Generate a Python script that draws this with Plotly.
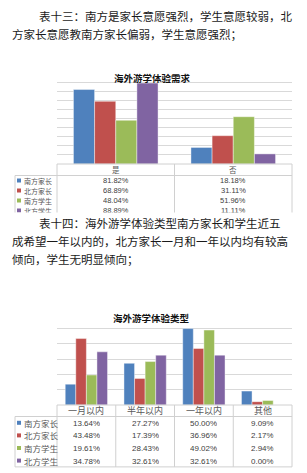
import plotly.graph_objects as go

W, H = 307, 473

# ---------------- data ----------------
series_names = ["南方家长", "北方家长", "南方学生", "北方学生"]
series_colors = ["#4F81BD", "#C0504D", "#9BBB59", "#8064A2"]

chart1_title = "海外游学体验需求"
chart1_categories = ["是", "否"]
chart1_south_parent = [81.82, 18.18]
chart1_north_parent = [68.89, 31.11]
chart1_south_student = [48.04, 51.96]
chart1_north_student = [88.89, 11.11]

chart2_title = "海外游学体验类型"
chart2_categories = ["一月以内", "半年以内", "一年以内", "其他"]
chart2_south_parent = [13.64, 27.27, 50.00, 9.09]
chart2_north_parent = [43.48, 17.39, 36.96, 2.17]
chart2_south_student = [19.61, 28.43, 49.02, 2.94]
chart2_north_student = [34.78, 32.61, 32.61, 0.00]

paragraph1 = ["表十三：南方是家长意愿强烈，学生意愿较弱，北",
              "方家长意愿教南方家长偏弱，学生意愿强烈；"]
paragraph2 = ["表十四：海外游学体验类型南方家长和学生近五",
              "成希望一年以内的，北方家长一月和一年以内均有较高",
              "倾向，学生无明显倾向；"]

chart1_series = [chart1_south_parent, chart1_north_parent, chart1_south_student, chart1_north_student]
chart2_series = [chart2_south_parent, chart2_north_parent, chart2_south_student, chart2_north_student]


def px(x):
    return x / W


def py(y):
    return 1 - y / H


CJK = "Noto Sans CJK SC"
GRID = "#D9D9D9"
BORDER = "#D0D0D0"

fig = go.Figure()

for vals, name, col in zip(chart1_series, series_names, series_colors):
    fig.add_trace(go.Bar(x=chart1_categories, y=vals, name=name, marker_color=col,
                         marker_line_color="rgba(255,255,255,0.7)", marker_line_width=0.6,
                         xaxis="x", yaxis="y", showlegend=False))
for vals, name, col in zip(chart2_series, series_names, series_colors):
    fig.add_trace(go.Bar(x=chart2_categories, y=vals, name=name, marker_color=col,
                         marker_line_color="rgba(255,255,255,0.7)", marker_line_width=0.6,
                         xaxis="x2", yaxis="y2", showlegend=False))

PL, PR = 57, 292
C1_TOP, C1_BASE = 73, 164
C2_TOP, C2_BASE = 313.3, 405

axis_common = dict(showticklabels=False, showline=False, zeroline=False, ticks="")
fig.update_layout(
    width=W, height=H,
    margin=dict(l=0, r=0, t=0, b=0),
    paper_bgcolor="white", plot_bgcolor="white",
    barmode="group", bargap=0.28, bargroupgap=0,
    xaxis=dict(domain=[px(PL), px(PR)], anchor="y", showgrid=False, **axis_common),
    yaxis=dict(domain=[py(C1_BASE), py(C1_TOP)], anchor="x", range=[0, 100], dtick=10,
               showgrid=True, gridcolor=GRID, gridwidth=1, **axis_common),
    xaxis2=dict(domain=[px(PL), px(PR)], anchor="y2", showgrid=False, **axis_common),
    yaxis2=dict(domain=[py(C2_BASE), py(C2_TOP)], anchor="x2", range=[0, 60], dtick=10,
                showgrid=True, gridcolor=GRID, gridwidth=1, **axis_common),
)

shapes = []
annotations = []


def hline(x0, x1, y):
    shapes.append(dict(type="line", xref="paper", yref="paper", x0=px(x0), x1=px(x1),
                       y0=py(y), y1=py(y), line=dict(color=BORDER, width=1)))


def vline(x, y0, y1):
    shapes.append(dict(type="line", xref="paper", yref="paper", x0=px(x), x1=px(x),
                       y0=py(y0), y1=py(y1), line=dict(color=BORDER, width=1)))


def text(x, y, s, size, color, xanchor="center", bold=False, family=CJK, box_h=None):
    a = dict(xref="paper", yref="paper", x=px(x), y=py(y), text=("<b>%s</b>" % s) if bold else s,
             showarrow=False, xanchor=xanchor, yanchor="middle",
             font=dict(family=family, size=size, color=color))
    if box_h is not None:
        a["height"] = box_h
        a["borderpad"] = 0
        a["valign"] = "middle"
    annotations.append(a)


def data_table(categories, series, base, head_bottom, row_h, label_size, num_size):
    ncat = len(categories)
    colw = (PR - PL) / ncat
    bottom = head_bottom + row_h * len(series)
    hline(PL, PR, base)
    hline(15, PR, head_bottom)
    hline(15, PR, bottom)
    vline(15, head_bottom, bottom)
    for i in range(ncat + 1):
        vline(PL + i * colw, base, bottom)
    for i, c in enumerate(categories):
        text(PL + (i + 0.5) * colw, (base + head_bottom) / 2, c, label_size + 0.5, "#595959")
    bh = row_h - 0.5
    for r, (vals, name, col) in enumerate(zip(series, series_names, series_colors)):
        cy = head_bottom + (r + 0.5) * row_h
        shapes.append(dict(type="rect", xref="paper", yref="paper", x0=px(17), x1=px(21),
                           y0=py(cy + 2), y1=py(cy - 2), line=dict(width=0), fillcolor=col))
        text(22.5, cy, name, label_size, "#595959", xanchor="left", box_h=bh)
        for i, v in enumerate(vals):
            text(PL + (i + 0.5) * colw, cy, "%.2f%%" % v, num_size, "#404040",
                 family="Liberation Sans", box_h=bh)


# chart titles
text(152, 78, chart1_title, 9.5, "#111111", bold=True)
text(151, 318, chart2_title, 9.5, "#111111", bold=True)

# tables
data_table(chart1_categories, chart1_series, C1_BASE, 175.5, 10, 7, 7.5)
data_table(chart2_categories, chart2_series, C2_BASE, 416.5, 12.6, 8.5, 8)

BODY = 11.5
# paragraph 1
text(37, 16, paragraph1[0], BODY, "#1a1a1a", xanchor="left")
text(10, 34, paragraph1[1], BODY, "#1a1a1a", xanchor="left")

# white paragraph background covering the bottom of table 1
annotations.append(dict(xref="paper", yref="paper", x=0, y=py(212), xanchor="left", yanchor="top",
                        text=" ", showarrow=False, width=W, height=20, bgcolor="white", borderpad=0,
                        font=dict(size=2)))
text(37, 223, paragraph2[0], BODY, "#1a1a1a", xanchor="left")
text(10, 241, paragraph2[1], BODY, "#1a1a1a", xanchor="left")
text(10, 259, paragraph2[2], BODY, "#1a1a1a", xanchor="left")

fig.update_layout(shapes=shapes, annotations=annotations)
fig.write_html("out.html")
